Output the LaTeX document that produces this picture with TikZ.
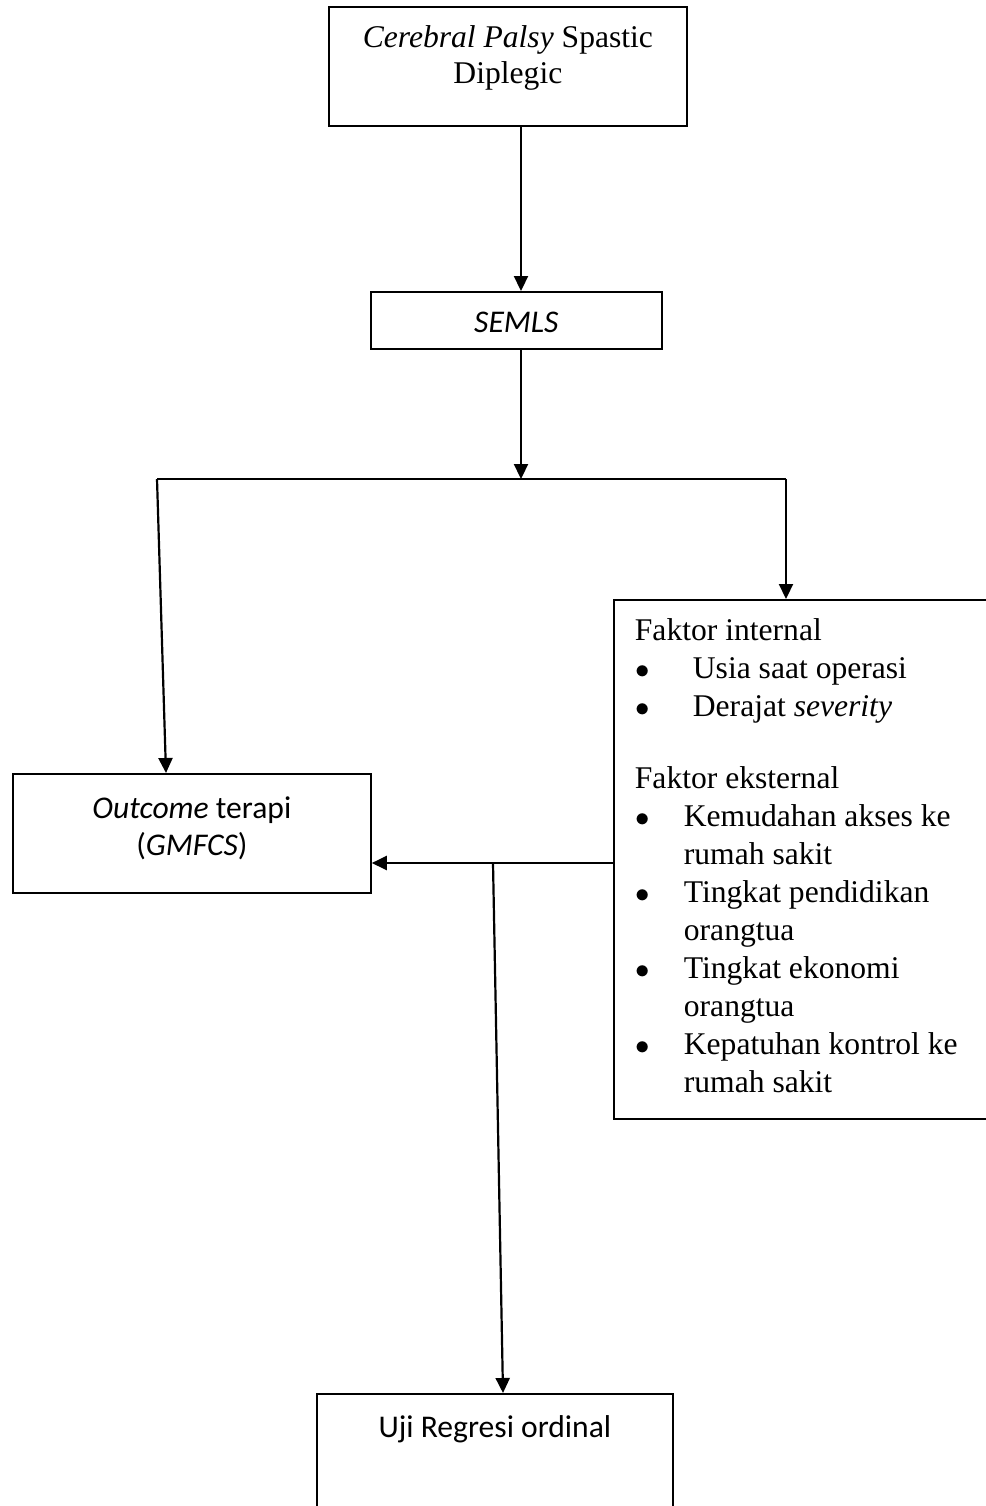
\documentclass[tikz,border=0pt]{standalone}
\usepackage{fontspec}
\setmainfont{Liberation Serif}
\newfontfamily\calibri{Carlito}
\usepackage{tikz}
\usetikzlibrary{arrows.meta, positioning, calc}
\newcommand{\wordtext}{\fontsize{15.8pt}{18pt}\selectfont}
\newcommand{\calibritext}{\calibri\fontsize{15.8pt}{18.5pt}\selectfont}
\newcommand{\boxtext}[5]{\parbox[c][#2][t]{#1}{#4\centering\vspace*{#3}\strut#5\par}}
\newcommand{\itembullet}[1]{\makebox[#1][l]{\hspace{0.5pt}$\bullet$}}

\begin{document}
\begin{tikzpicture}[x=0.5pt, y=-0.5pt,
    wordbox/.style={draw=black, line width=0.9pt, inner sep=0pt, anchor=north west},
    link/.style={line width=1.1pt, draw=black},
    arrow/.style={link, -{Triangle[length=7.5pt, width=7pt]}}
]
    \useasboundingbox (0,0) rectangle (986,1506);
    \clip (0,0) rectangle (986,1506);

    \node[wordbox] (cp) at (328,6) {\boxtext{179pt}{59.5pt}{7.5pt}{\wordtext}{\textit{Cerebral Palsy} Spastic\\Diplegic}};
    \node[wordbox] (semls) at (370,291) {\boxtext{145.5pt}{28.5pt}{7.5pt}{\calibritext}{\textit{SEMLS}}};
    \node[wordbox] (outcome) at (12,773) {\boxtext{179pt}{59.5pt}{9.5pt}{\calibritext}{\textit{Outcome} terapi\\(\textit{GMFCS})}};
    \node[wordbox] (faktor) at (613,599) {\parbox[c][259.5pt][t]{200pt}{\raggedright\leftskip=10.5pt
        \fontsize{15.8pt}{19pt}\selectfont\vspace*{7.2pt}%
        \strut Faktor internal\\
        \itembullet{29pt}Usia saat operasi\\
        \itembullet{29pt}Derajat \textit{severity}\\[17pt]
        Faktor eksternal\\
        \itembullet{24.5pt}Kemudahan akses ke\\
        \hspace*{24.5pt}rumah sakit\\
        \itembullet{24.5pt}Tingkat pendidikan\\
        \hspace*{24.5pt}orangtua\\
        \itembullet{24.5pt}Tingkat ekonomi\\
        \hspace*{24.5pt}orangtua\\
        \itembullet{24.5pt}Kepatuhan kontrol ke\\
        \hspace*{24.5pt}rumah sakit\par}};
    \node[wordbox] (uji) at (316,1393) {\boxtext{178pt}{60pt}{9pt}{\calibritext}{Uji Regresi ordinal}};

    \coordinate (split) at (521,479);
    \coordinate (brL) at (157,479);
    \coordinate (brR) at (786,479);
    \coordinate (feed) at (613,863);
    \coordinate (tap) at (493,863);

    \draw[arrow] (cp.south -| split) -- (semls.north -| split);
    \draw[arrow] (semls.south -| split) -- (split);
    \draw[link] (brL) -- (brR);
    \draw[arrow] (brL) -- (outcome.north -| 166,0);
    \draw[arrow] (brR) -- (faktor.north -| brR);
    \draw[arrow] (feed) -- (outcome.east |- feed);
    \draw[arrow] (tap) -- (uji.north -| 503,0);
\end{tikzpicture}
\end{document}
